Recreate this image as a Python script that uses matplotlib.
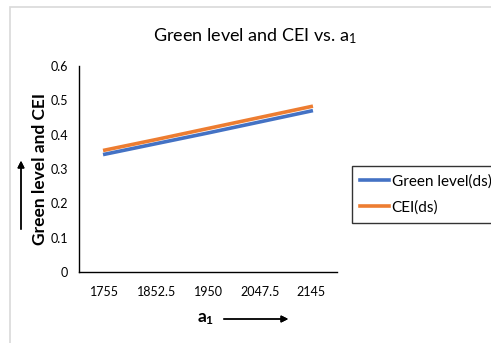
import matplotlib.pyplot as plt
from matplotlib.patches import Rectangle

plt.rcParams['font.family'] = ['Lato', 'DejaVu Sans']
plt.rcParams['mathtext.fontset'] = 'custom'
plt.rcParams['mathtext.rm'] = 'Lato'
plt.rcParams['mathtext.it'] = 'Lato'
plt.rcParams['mathtext.bf'] = 'Lato:bold'

# data
a1_labels = ["1755", "1852.5", "1950", "2047.5", "2145"]
green_level = [0.343, 0.374, 0.405, 0.437, 0.469]
cei = [0.355, 0.386, 0.418, 0.450, 0.482]

W, H = 491, 343
fig = plt.figure(figsize=(W / 100, H / 100), dpi=100)

# light frame around the chart area
fig.patches.append(Rectangle((10 / W, -0.05), 1.2, 1 - 7 / H + 0.05,
                             transform=fig.transFigure, fill=False,
                             edgecolor='#d9d9d9', linewidth=1.2))

ax = fig.add_axes([79 / W, 1 - 272 / H, (337 - 79) / W, (272 - 66) / H])
ax.plot(a1_labels, green_level, color='#4472C4', linewidth=2.6, label='Green level(ds)')
ax.plot(a1_labels, cei, color='#ED7D31', linewidth=2.6, label='CEI(ds)')

ax.set_xlim(-0.5, 4.5)
ax.set_ylim(0, 0.6)
ax.set_yticks([0, 0.1, 0.2, 0.3, 0.4, 0.5, 0.6])
ax.set_yticklabels(['0', '0.1', '0.2', '0.3', '0.4', '0.5', '0.6'])
ax.tick_params(length=0, labelsize=9, pad=8)
ax.tick_params(axis='x', pad=10)
for s in ['top', 'right']:
    ax.spines[s].set_visible(False)
for s in ['left', 'bottom']:
    ax.spines[s].set_linewidth(1.0)
    ax.spines[s].set_color('black')

fig.text(255 / W, 1 - 36 / H, 'Green level and CEI vs. a$_1$', ha='center', va='center', fontsize=13)
fig.text(40 / W, 1 - 169 / H, 'Green level and CEI', rotation=90, ha='center', va='center',
         fontsize=12.5, fontweight='bold')
fig.text(206 / W, 1 - 319 / H, r'$\mathbf{a_1}$', ha='center', va='center', fontsize=12.5)

# arrows next to the axis titles
fig.add_artist(plt.annotate('', xy=(21 / W, 1 - 158 / H), xytext=(21 / W, 1 - 232 / H),
                            xycoords='figure fraction', textcoords='figure fraction',
                            arrowprops=dict(arrowstyle='-|>', color='black', lw=1.0,
                                            mutation_scale=10)))
fig.add_artist(plt.annotate('', xy=(291 / W, 1 - 319 / H), xytext=(221 / W, 1 - 319 / H),
                            xycoords='figure fraction', textcoords='figure fraction',
                            arrowprops=dict(arrowstyle='-|>', color='black', lw=1.0,
                                            mutation_scale=10)))

leg = ax.legend(loc='upper left', bbox_to_anchor=(352 / W, 1 - 166 / H),
                bbox_transform=fig.transFigure, fontsize=11, frameon=True,
                fancybox=False, handlelength=1.9, handletextpad=0.15,
                labelspacing=0.75, borderpad=0.55, borderaxespad=0)
leg.get_frame().set_edgecolor('black')
leg.get_frame().set_linewidth(1.0)

fig.savefig('out.png', dpi=100)
